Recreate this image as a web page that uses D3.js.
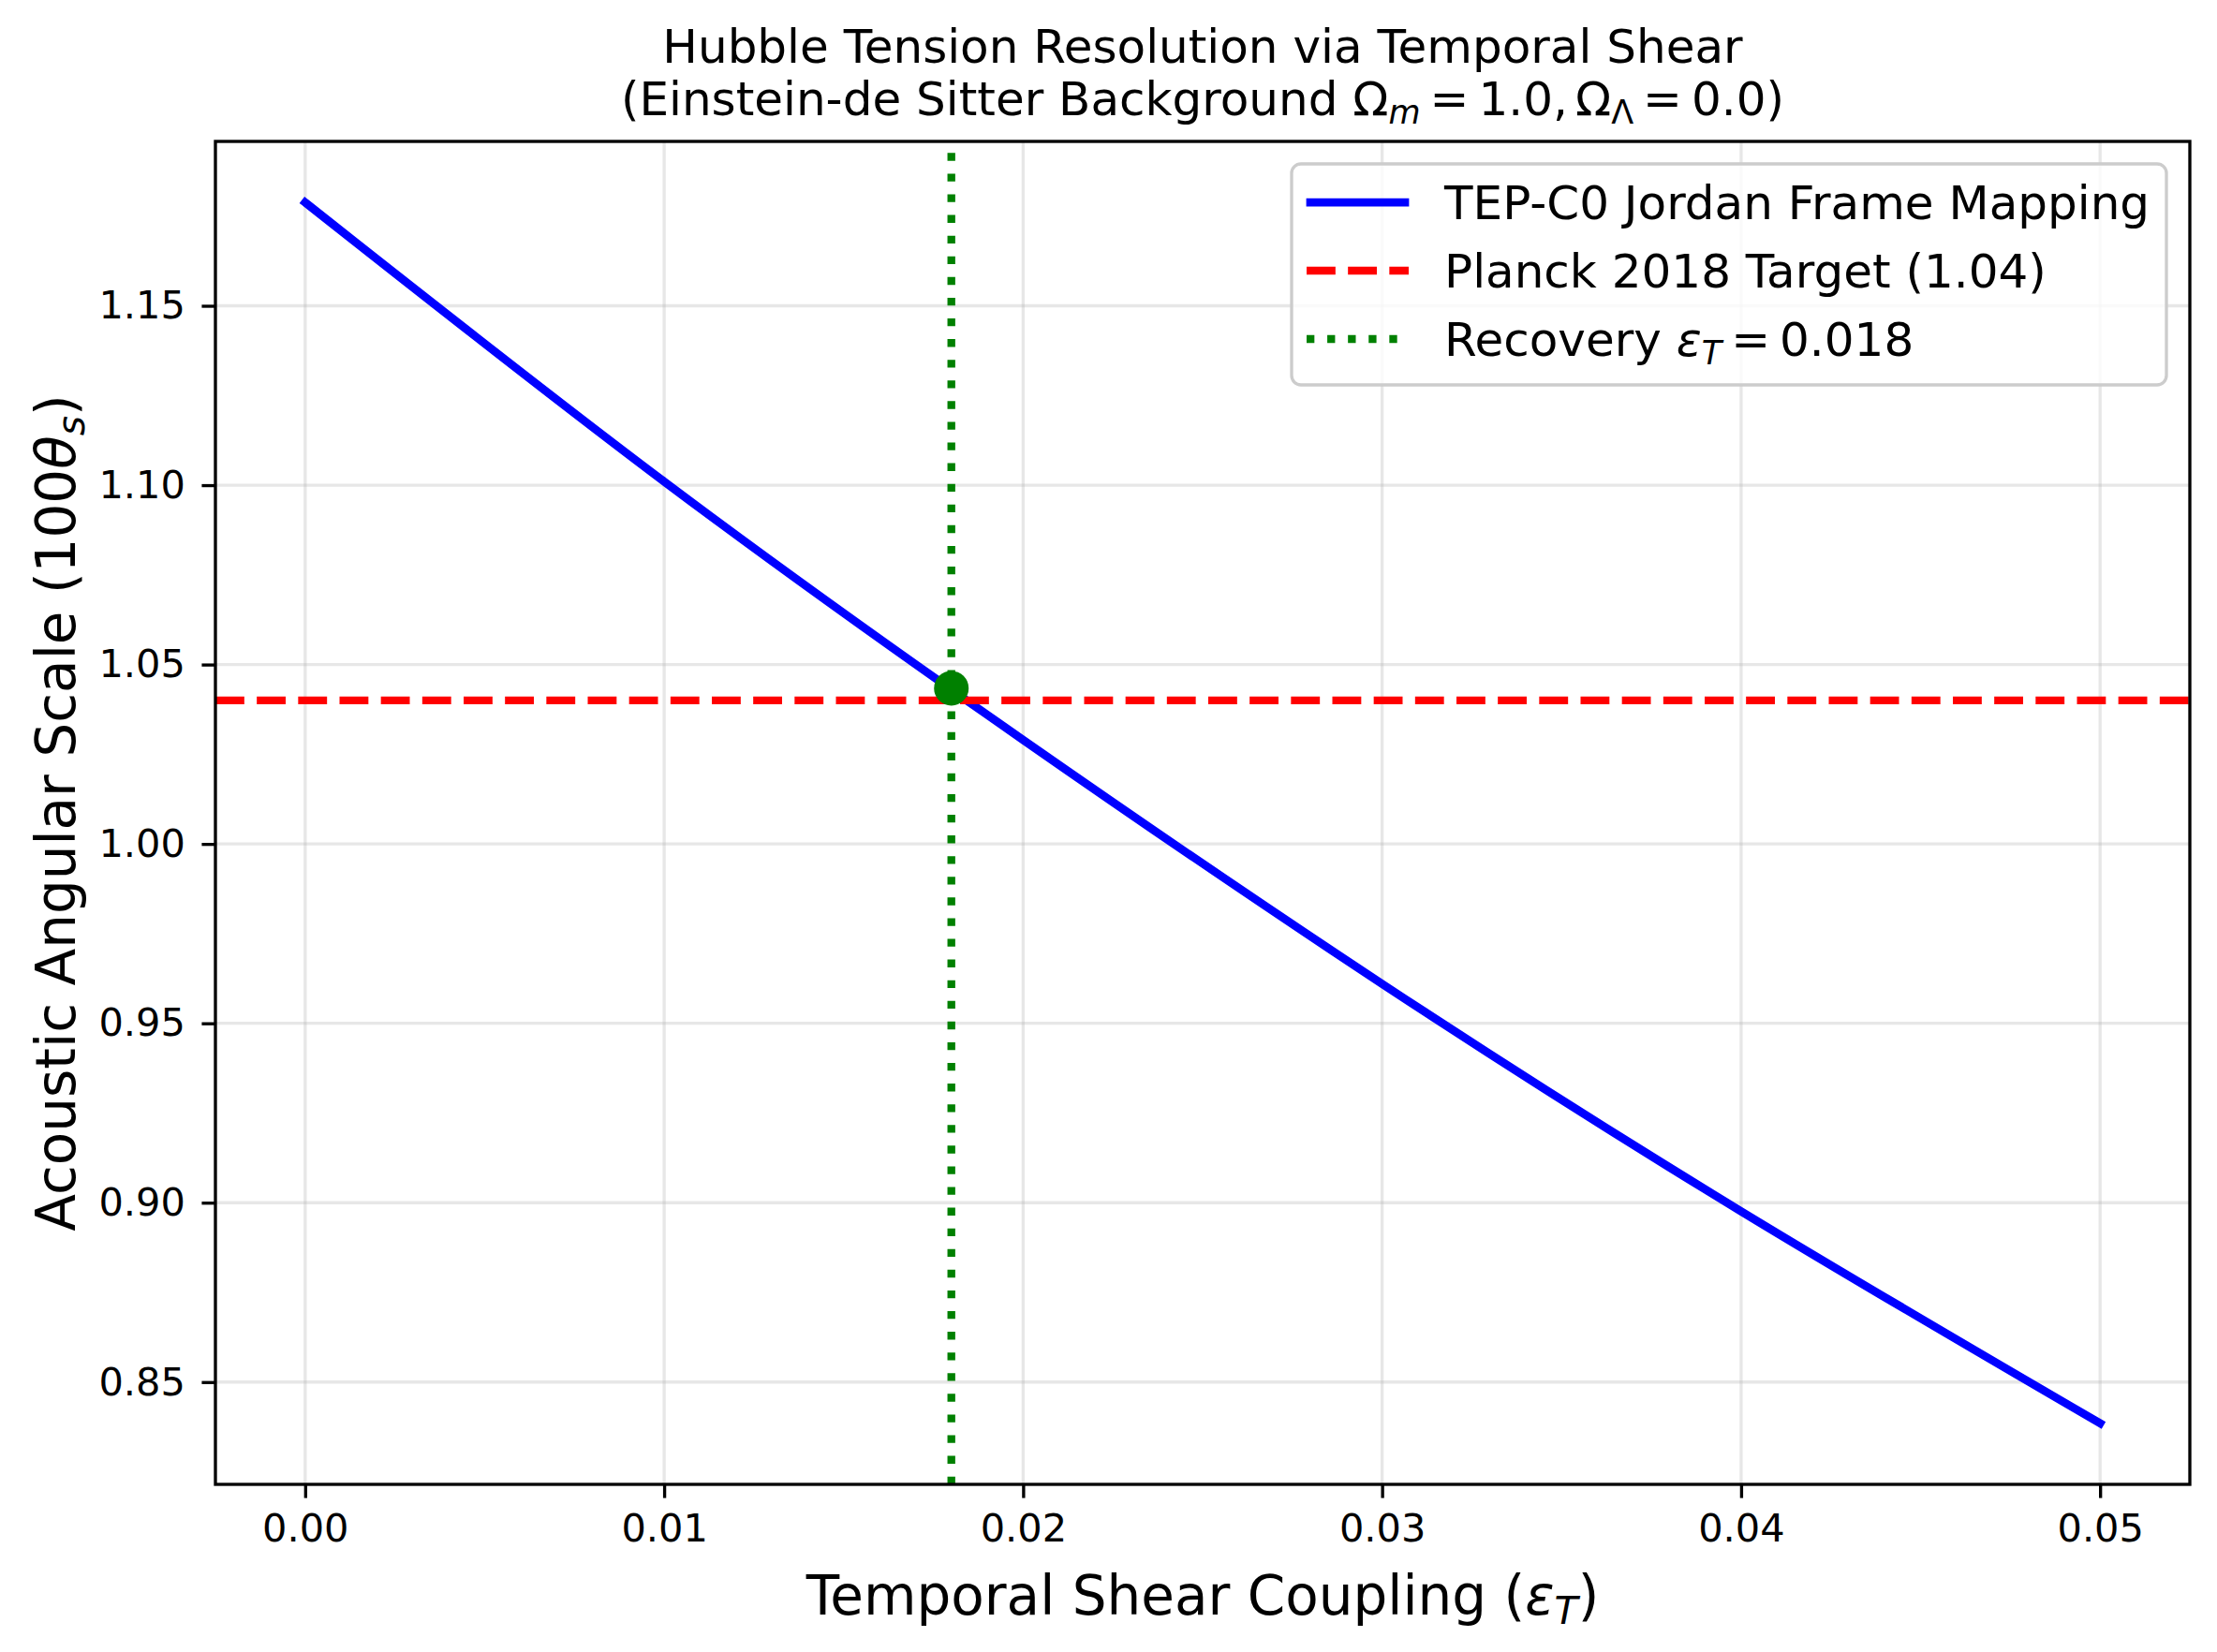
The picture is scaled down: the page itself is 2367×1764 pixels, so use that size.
<!DOCTYPE html>
<html>
<head>
<meta charset="utf-8">
<script src="https://cdn.jsdelivr.net/npm/d3@7"></script>
<style>
  html, body { margin: 0; padding: 0; background: #ffffff; }
  svg { display: block; font-family: "DejaVu Sans", sans-serif; }
</style>
</head>
<body>
<div id="chart"></div>
<script>
// ---------- data ----------
const couplingValues = [0.000, 0.010, 0.020, 0.030, 0.040, 0.050];
const angularScale   = [1.1788, 1.1010, 1.0290, 0.9610, 0.8976, 0.8385];
const xTickValues = [0.00, 0.01, 0.02, 0.03, 0.04, 0.05];
const yTickValues = [0.85, 0.90, 0.95, 1.00, 1.05, 1.10, 1.15];
const planckTarget = 1.04;
const recoveryEps = 0.018;
const recoveryTheta = 1.0434;
const legendLabels = ["TEP-C0 Jordan Frame Mapping", "Planck 2018 Target (1.04)", "Recovery"];

// ---------- layout ----------
const W = 2367, H = 1764;
const L = 230, R = 2338, T = 151, B = 1585;

const svg = d3.select("#chart").append("svg")
  .attr("width", W).attr("height", H);
svg.append("rect").attr("width", W).attr("height", H).attr("fill", "#ffffff");

// scales with matplotlib-like 5% margins
const xMin = d3.min(couplingValues), xMax = d3.max(couplingValues);
const yMin = d3.min(angularScale), yMax = d3.max(angularScale);
const xPad = (xMax - xMin) * 0.05, yPad = (yMax - yMin) * 0.05;
const x = d3.scaleLinear().domain([xMin - xPad, xMax + xPad]).range([L, R]);
const y = d3.scaleLinear().domain([yMin - yPad, yMax + yPad]).range([B, T]);

const pt = 300 / 72;

// grid
const grid = svg.append("g").attr("stroke", "#b0b0b0").attr("stroke-opacity", 0.3)
  .attr("stroke-width", 0.8 * pt);
grid.selectAll("line.gx").data(xTickValues).enter().append("line")
  .attr("x1", d => x(d)).attr("x2", d => x(d)).attr("y1", T).attr("y2", B);
grid.selectAll("line.gy").data(yTickValues).enter().append("line")
  .attr("x1", L).attr("x2", R).attr("y1", d => y(d)).attr("y2", d => y(d));

// curve
const data = couplingValues.map((c, i) => ({ c, v: angularScale[i] }));
const line = d3.line().x(d => x(d.c)).y(d => y(d.v)).curve(d3.curveNatural);
svg.append("path").datum(data).attr("d", line)
  .attr("fill", "none").attr("stroke", "#0000ff").attr("stroke-width", 2.1 * pt)
  .attr("stroke-linecap", "square").attr("stroke-linejoin", "round");

// planck target line
svg.append("line")
  .attr("x1", L).attr("x2", R).attr("y1", y(planckTarget)).attr("y2", y(planckTarget))
  .attr("stroke", "#ff0000").attr("stroke-width", 2 * pt)
  .attr("stroke-dasharray", `${3.7 * 2 * pt},${1.6 * 2 * pt}`);

// recovery vertical line (drawn from bottom upward like matplotlib)
svg.append("line")
  .attr("x1", x(recoveryEps)).attr("x2", x(recoveryEps)).attr("y1", B).attr("y2", T)
  .attr("stroke", "#008000").attr("stroke-width", 2 * pt)
  .attr("stroke-dasharray", `${1 * 2 * pt},${1.65 * 2 * pt}`);

// marker
svg.append("circle")
  .attr("cx", x(recoveryEps)).attr("cy", y(recoveryTheta)).attr("r", 18.5)
  .attr("fill", "#008000");

// axes
const tickLen = 3.5 * pt;
const xAxis = d3.axisBottom(x).tickValues(xTickValues).tickFormat(d3.format(".2f"))
  .tickSize(tickLen).tickPadding(3.5 * pt + 2);
const yAxis = d3.axisLeft(y).tickValues(yTickValues).tickFormat(d3.format(".2f"))
  .tickSize(tickLen).tickPadding(3.5 * pt + 3);

const gx = svg.append("g").attr("transform", `translate(0,${B})`).call(xAxis);
const gy = svg.append("g").attr("transform", `translate(${L},0)`).call(yAxis);
[gx, gy].forEach(g => {
  g.select(".domain").remove();
  g.selectAll(".tick line").attr("stroke", "#000").attr("stroke-width", 0.8 * pt);
  g.selectAll(".tick text").attr("fill", "#000").attr("font-size", 41.5)
    .attr("font-family", "DejaVu Sans");
});

// spines
svg.append("rect").attr("x", L).attr("y", T).attr("width", R - L).attr("height", B - T)
  .attr("fill", "none").attr("stroke", "#000").attr("stroke-width", 0.8 * pt);

// title
const title = svg.append("text").attr("text-anchor", "middle").attr("font-size", 50)
  .attr("fill", "#000");
title.append("tspan").attr("x", (L + R) / 2).attr("y", 67)
  .text("Hubble Tension Resolution via Temporal Shear");
const t2 = title.append("tspan").attr("x", (L + R) / 2).attr("y", 123);
t2.append("tspan").text("(Einstein-de Sitter Background Ω");
t2.append("tspan").attr("font-size", 35).attr("font-style", "italic").attr("dy", 9).text("m");
t2.append("tspan").attr("dy", -9).attr("dx", 10).text("=");
t2.append("tspan").attr("dx", 10).text("1.0,");
t2.append("tspan").attr("dx", 8).text("Ω");
t2.append("tspan").attr("font-size", 35).attr("dy", 9).text("Λ");
t2.append("tspan").attr("dy", -9).attr("dx", 10).text("=");
t2.append("tspan").attr("dx", 10).text("0.0)");

// x label
const xl = svg.append("text").attr("text-anchor", "middle").attr("font-size", 58)
  .attr("x", (L + R) / 2).attr("y", 1724).attr("fill", "#000");
xl.append("tspan").text("Temporal Shear Coupling (");
xl.append("tspan").attr("font-style", "italic").text("ε");
xl.append("tspan").attr("font-style", "italic").attr("font-size", 41).attr("dy", 10).text("T");
xl.append("tspan").attr("dy", -10).text(")");

// y label
const yl = svg.append("text").attr("text-anchor", "middle").attr("font-size", 58)
  .attr("transform", `translate(80,${(T + B) / 2}) rotate(-90)`).attr("fill", "#000");
yl.append("tspan").text("Acoustic Angular Scale (100");
yl.append("tspan").attr("font-style", "italic").text("θ");
yl.append("tspan").attr("font-style", "italic").attr("font-size", 41).attr("dy", 10).text("s");
yl.append("tspan").attr("dy", -10).text(")");

// legend
const lg = svg.append("g");
lg.append("rect").attr("x", 1379).attr("y", 175).attr("width", 934).attr("height", 236)
  .attr("rx", 10).attr("ry", 10)
  .attr("fill", "#ffffff").attr("fill-opacity", 0.8)
  .attr("stroke", "#cccccc").attr("stroke-width", 0.8 * pt);
const rowsY = [216, 289, 362];
const hx1 = 1395, hx2 = 1504, tx = 1542;
lg.append("line").attr("x1", hx1 + 4).attr("x2", hx2 - 4).attr("y1", rowsY[0]).attr("y2", rowsY[0])
  .attr("stroke", "#0000ff").attr("stroke-width", 2.1 * pt).attr("stroke-linecap", "square");
lg.append("line").attr("x1", hx1).attr("x2", hx2).attr("y1", rowsY[1]).attr("y2", rowsY[1])
  .attr("stroke", "#ff0000").attr("stroke-width", 2 * pt)
  .attr("stroke-dasharray", `${3.7 * 2 * pt},${1.6 * 2 * pt}`);
lg.append("line").attr("x1", hx1).attr("x2", hx2).attr("y1", rowsY[2]).attr("y2", rowsY[2])
  .attr("stroke", "#008000").attr("stroke-width", 2 * pt)
  .attr("stroke-dasharray", `${1 * 2 * pt},${1.65 * 2 * pt}`);

lg.append("text").attr("x", tx).attr("y", rowsY[0] + 18).attr("font-size", 50).text(legendLabels[0]);
lg.append("text").attr("x", tx).attr("y", rowsY[1] + 18).attr("font-size", 50).text(legendLabels[1]);
const l3 = lg.append("text").attr("x", tx).attr("y", rowsY[2] + 18).attr("font-size", 50);
l3.append("tspan").text(legendLabels[2] + " ");
l3.append("tspan").attr("font-style", "italic").text("ε");
l3.append("tspan").attr("font-style", "italic").attr("font-size", 35).attr("dy", 9).text("T");
l3.append("tspan").attr("dy", -9).attr("dx", 10).text("=");
l3.append("tspan").attr("dx", 10).text(d3.format(".3f")(recoveryEps));
</script>
</body>
</html>
